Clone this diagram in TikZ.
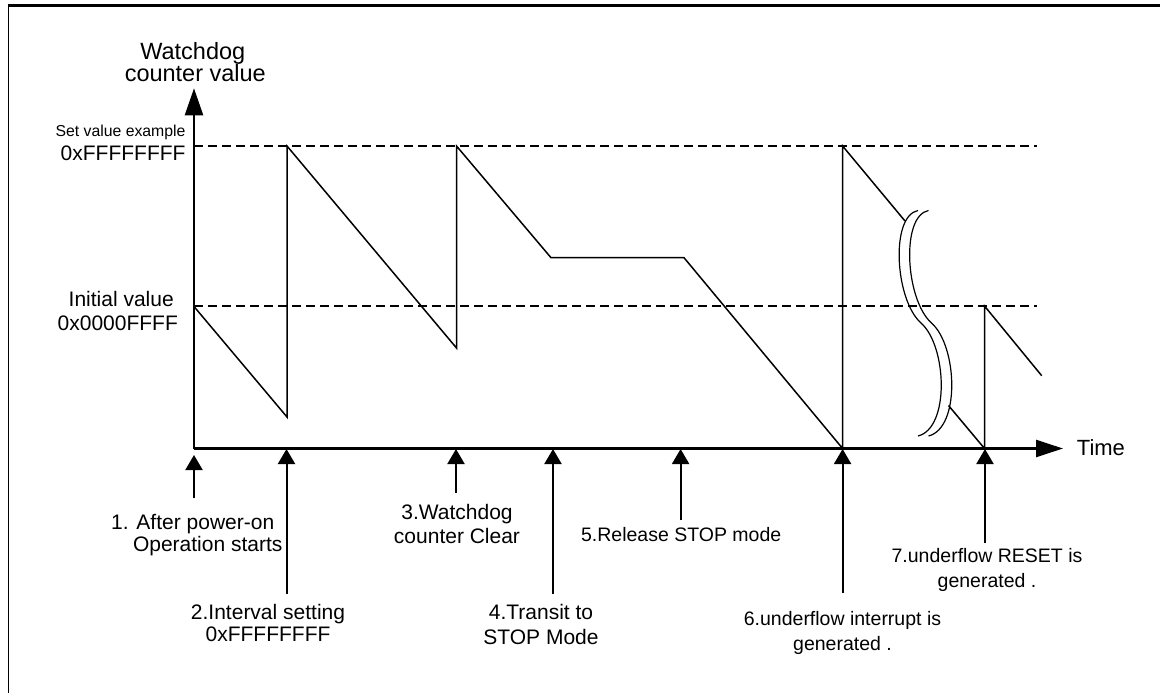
\documentclass[tikz,border=0pt]{standalone}
\usepackage{fontspec}
\setmainfont{Liberation Sans}
\usetikzlibrary{arrows.meta}
\begin{document}
\begin{tikzpicture}[x=1pt,y=-1pt,
  wave/.style={line width=1.5pt, line join=miter},
  axisline/.style={line width=2.5pt},
  guide/.style={line width=2.2pt, dash pattern=on 9pt off 5pt},
  breakmark/.style={line width=1.2pt},
  evt/.style={line width=2pt, -{Triangle[length=15pt,width=17pt]}},
  lbl/.style={inner sep=0pt, anchor=base, font=\fontsize{21}{21}\selectfont},
  lblj/.style={inner sep=0pt, anchor=base, font=\fontsize{19.5}{19.5}\selectfont},
]
\useasboundingbox (0,0) rectangle (1160,693);
\fill[white] (0,0) rectangle (1160,693);
% frame
\draw[line width=1.6pt] (8.3,694) -- (8.3,5.5);
\draw[line width=2.2pt] (7.5,5.5) -- (1161,5.5);

% key coordinates
\coordinate (O) at (194,448.5);
\coordinate (ytip) at (194,88.3);
\coordinate (xtip) at (1063,448.5);
\coordinate (maxL) at (194,146);
\coordinate (maxR) at (1037,146);
\coordinate (iniL) at (194,306);
\coordinate (iniR) at (1037,306);

% guide lines
\draw[guide] (maxL) -- (maxR);
\draw[guide] (iniL) -- (iniR);

% waveform
\coordinate (p0) at (194,306.5);
\coordinate (p1) at (287,417);
\coordinate (p2) at (287,146);
\coordinate (p3) at (456.5,348);
\coordinate (p4) at (456.5,146);
\coordinate (p5) at (551,257.7);
\coordinate (p6) at (684,257.7);
\coordinate (p7) at (842.6,448.5);
\coordinate (p8) at (842.6,146);
\coordinate (p9) at (905,221);
\draw[wave] (p0) -- (p1) -- (p2) -- (p3) -- (p4) -- (p5) -- (p6) -- (p7) -- (p8) -- (p9);
\coordinate (q0) at (948.5,405.5);
\coordinate (q1) at (984.5,448.5);
\coordinate (q2) at (984.5,306);
\coordinate (q3) at (1041.7,375.7);
\draw[wave] (q0) -- (q1) -- (q2) -- (q3);

% break mark
\draw[breakmark] (918,210.5) .. controls (890,216) and (895,300) .. (921,323)
  .. controls (947,346) and (950,428) .. (918,436);
\draw[breakmark] (928.5,210.5) .. controls (900.5,216) and (905.5,300) .. (931.5,323)
  .. controls (957.5,346) and (960.5,428) .. (928.5,436);

% axes
\draw[axisline, -{Triangle[length=27pt,width=18pt]}] (O) -- (ytip);
\draw[axisline, -{Triangle[length=27pt,width=17pt]}] (O) -- (xtip);

% axis labels
\node[inner sep=0pt, anchor=base, font=\fontsize{23.5}{23.5}\selectfont] (yl1) at (192.8,60) {Watchdog};
\node[inner sep=0pt, anchor=base, font=\fontsize{23.5}{23.5}\selectfont] (yl2) at (195.3,81.7) {counter value};
\node[inner sep=0pt, anchor=base east, font=\fontsize{15.8}{15.8}\selectfont] (setv) at (185.7,136.7) {Set value example};
\node[lbl, anchor=base east] (maxv) at (185.7,160.7) {0xFFFFFFFF};
\node[lbl] (init1) at (121.2,306) {Initial value};
\node[lbl] (init2) at (117.8,330) {0x0000FFFF};
\node[inner sep=0pt, anchor=base, font=\fontsize{22}{22}\selectfont] (timel) at (1100.9,455.7) {Time};

% event arrows
\coordinate (e1b) at (194,498.3);   \coordinate (e1t) at (194,455);
\coordinate (e2b) at (286.5,594);   \coordinate (e2t) at (286.5,449);
\coordinate (e3b) at (456,492.7);   \coordinate (e3t) at (456,449);
\coordinate (e4b) at (553,594);     \coordinate (e4t) at (553,449);
\coordinate (e5b) at (680.6,520);   \coordinate (e5t) at (680.6,449);
\coordinate (e6b) at (842.6,593.3); \coordinate (e6t) at (842.6,449);
\coordinate (e7b) at (985,543.3);   \coordinate (e7t) at (985,449);
\foreach \i in {1,...,7} { \draw[evt] (e\i b) -- (e\i t); }

% event labels
\node[lbl, anchor=base west] (l1a) at (111,529.3) {1. After power-on};
\node[lbl, anchor=base west] (l1b) at (132.8,551) {Operation starts};
\node[lbl] (l2a) at (268,619) {2.Interval setting};
\node[lbl] (l2b) at (268,641.7) {0xFFFFFFFF};
\node[lbl] (l3a) at (457,519) {3.Watchdog};
\node[lbl] (l3b) at (457,543.3) {counter Clear};
\node[lbl] (l4a) at (541,619.3) {4.Transit to};
\node[lbl] (l4b) at (541,644) {STOP Mode};
\node[lblj] (l5) at (681.2,541.7) {5.Release STOP mode};
\node[lblj] (l6a) at (842.5,625) {6.underflow interrupt is};
\node[lblj] (l6b) at (842.5,650) {generated .};
\node[lblj] (l7a) at (987,562.7) {7.underflow RESET is};
\node[lblj] (l7b) at (987,587.3) {generated .};
\end{tikzpicture}
\end{document}
